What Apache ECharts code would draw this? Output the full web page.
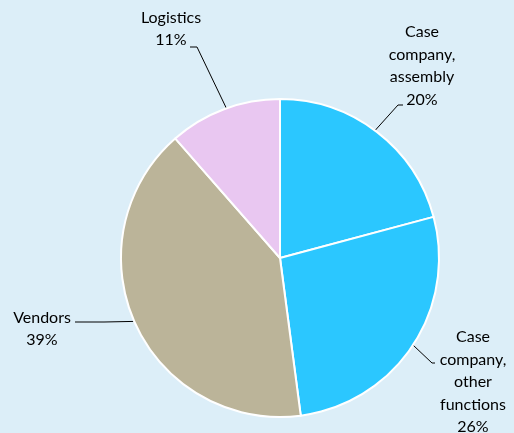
<!DOCTYPE html>
<html>
<head>
<meta charset="utf-8">
<script src="https://cdn.jsdelivr.net/npm/echarts@6/dist/echarts.min.js"></script>
<style>
  html, body { margin: 0; padding: 0; background: #DCEEF8; }
  #chart { width: 514px; height: 433px; }
</style>
</head>
<body>
<div id="chart"></div>
<script>
// Cost shares by party
const categories = ['Case company, assembly', 'Case company, other functions', 'Vendors', 'Logistics'];
const shares = [20, 26, 39, 11];
// Line breaks used in the slice labels
const labelNames = ['Case\ncompany,\nassembly', 'Case\ncompany,\nother\nfunctions', 'Vendors', 'Logistics'];
const sliceColors = ['#2BC7FF', '#2BC7FF', '#BBB499', '#E9C7F1'];

// Pie geometry (px)
const CX = 280, CY = 258, R = 159;
// Label block centres and leader-line anchors (angle on the rim, clockwise from 12 o'clock)
const labelCentres = [[422, 66], [473, 382], [42, 329], [171, 29]];
const leaderRimAngles = [36.7, 123.2, 246.5, 340.3];
const leaderBends = [[[398, 105], [403, 105]], [[432, 363], [435, 363]], [[104, 322], [75, 322]], [[197, 47], [190, 47]]];

function rimPoint(deg) {
  const a = deg * Math.PI / 180;
  return [CX + R * Math.sin(a), CY - R * Math.cos(a)];
}

const chart = echarts.init(document.getElementById('chart'), null, { renderer: 'canvas' });
chart.setOption({
  backgroundColor: '#DCEEF8',
  animation: false,
  series: [{
    type: 'pie',
    center: [CX, CY],
    radius: R,
    startAngle: 90,
    clockwise: true,
    data: categories.map((name, i) => ({
      name: name,
      value: shares[i],
      itemStyle: { color: sliceColors[i] }
    })),
    itemStyle: { borderColor: '#FFFFFF', borderWidth: 2 },
    emphasis: { disabled: true },
    label: {
      show: true,
      position: 'outside',
      formatter: p => labelNames[p.dataIndex] + '\n' + p.value + '%',
      fontFamily: 'Lato, sans-serif',
      fontSize: 16,
      lineHeight: 22.5,
      color: '#000000',
      align: 'center',
      overflow: 'none',
      width: 100
    },
    labelLine: {
      show: true,
      lineStyle: { color: '#000000', width: 1 }
    },
    labelLayout: p => {
      const i = p.dataIndex;
      return {
        x: labelCentres[i][0],
        y: labelCentres[i][1],
        align: 'center',
        verticalAlign: 'middle',
        labelLinePoints: [rimPoint(leaderRimAngles[i])].concat(leaderBends[i])
      };
    }
  }]
});
</script>
</body>
</html>
